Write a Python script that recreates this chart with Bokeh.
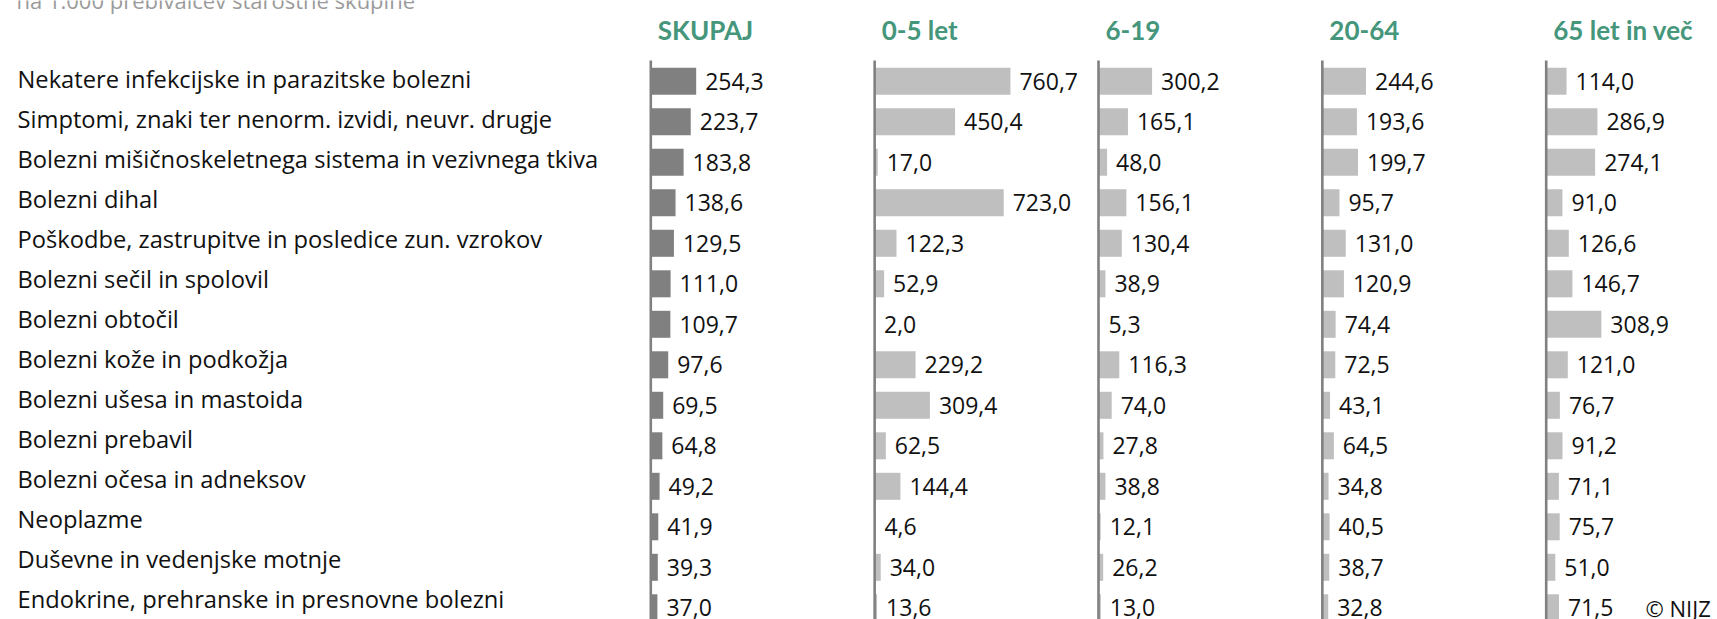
from bokeh.plotting import figure
from bokeh.models import Range1d, ColumnDataSource
from bokeh.embed import file_html
from bokeh.resources import INLINE
from bokeh.core.properties import value

# ---------------- data ----------------
categories = [
    "Nekatere infekcijske in parazitske bolezni",
    "Simptomi, znaki ter nenorm. izvidi, neuvr. drugje",
    "Bolezni mišičnoskeletnega sistema in vezivnega tkiva",
    "Bolezni dihal",
    "Poškodbe, zastrupitve in posledice zun. vzrokov",
    "Bolezni sečil in spolovil",
    "Bolezni obtočil",
    "Bolezni kože in podkožja",
    "Bolezni ušesa in mastoida",
    "Bolezni prebavil",
    "Bolezni očesa in adneksov",
    "Neoplazme",
    "Duševne in vedenjske motnje",
    "Endokrine, prehranske in presnovne bolezni",
]
groups = ["SKUPAJ", "0-5 let", "6-19", "20-64", "65 let in več"]
skupaj = [254.3, 223.7, 183.8, 138.6, 129.5, 111.0, 109.7, 97.6, 69.5, 64.8, 49.2, 41.9, 39.3, 37.0]
age_0_5 = [760.7, 450.4, 17.0, 723.0, 122.3, 52.9, 2.0, 229.2, 309.4, 62.5, 144.4, 4.6, 34.0, 13.6]
age_6_19 = [300.2, 165.1, 48.0, 156.1, 130.4, 38.9, 5.3, 116.3, 74.0, 27.8, 38.8, 12.1, 26.2, 13.0]
age_20_64 = [244.6, 193.6, 199.7, 95.7, 131.0, 120.9, 74.4, 72.5, 43.1, 64.5, 34.8, 40.5, 38.7, 32.8]
age_65 = [114.0, 286.9, 274.1, 91.0, 126.6, 146.7, 308.9, 121.0, 76.7, 91.2, 71.1, 75.7, 51.0, 71.5]
series = [skupaj, age_0_5, age_6_19, age_20_64, age_65]
subtitle = "na 1.000 prebivalcev starostne skupine"
source_note = "© NIJZ"

# ---------------- layout ----------------
W, H = 1717, 619
PX_PER_UNIT = 0.1785          # screen px per data unit (shared scale)
ROW_PX = 40.5                 # bar row pitch
LABEL_ROW_PX = 40.0           # category label pitch (slightly tighter in original)
ROW0_PX = 80.8
COL0_PX = 650.3
COL_STEP_PX = 223.85
BASE_FIX = -9.5               # correction for alphabetic baseline placement
FONT = "Open Sans"
HEAD_FONT = "Lato"
BAR_COLORS = ["#808080", "#bfbfbf", "#bfbfbf", "#bfbfbf", "#bfbfbf"]
HEAD_COLOR = "#45967b"

def px_to_row(px):
    return (px - ROW0_PX) / ROW_PX

p = figure(
    width=W, height=H,
    x_range=Range1d(0, W / PX_PER_UNIT),
    y_range=Range1d(px_to_row(H), px_to_row(0)),
    output_backend="svg", toolbar_location=None, min_border=0,
)
p.axis.visible = False
p.grid.visible = False
p.outline_line_color = None
p.background_fill_color = "white"
p.border_fill_color = "white"

rows = list(range(len(categories)))
origins = [(COL0_PX + i * COL_STEP_PX) / PX_PER_UNIT for i in range(len(groups))]

for i, (g, vals) in enumerate(zip(groups, series)):
    o = origins[i]
    src = ColumnDataSource(dict(
        y=rows,
        left=[o] * len(vals),
        right=[o + v for v in vals],
        lab=[f"{v:.1f}".replace(".", ",") for v in vals],
    ))
    p.hbar(y="y", left="left", right="right", height=0.667, source=src,
           fill_color=BAR_COLORS[i], line_color=None)
    p.segment(x0=[o], y0=[px_to_row(60)], x1=[o], y1=[px_to_row(H + 20)],
              line_color="#808080", line_width=2.6)
    p.text(x="right", y="y", text="lab", source=src, x_offset=9, y_offset=9.2 + BASE_FIX,
           text_font=value(FONT), text_font_size="23px", text_color="#111111",
           text_baseline="alphabetic", text_align="left")
    p.text(x=[o + 7 / PX_PER_UNIT], y=[px_to_row(39.4)], text=[g], y_offset=BASE_FIX,
           text_font=value(HEAD_FONT), text_font_style="bold", text_font_size="26px",
           text_color=HEAD_COLOR, text_baseline="alphabetic", text_align="left")

label_rows = [r * LABEL_ROW_PX / ROW_PX for r in rows]
cat_src = ColumnDataSource(dict(x=[17 / PX_PER_UNIT] * len(categories), y=label_rows, t=categories))
p.text(x="x", y="y", text="t", source=cat_src, y_offset=6.8 + BASE_FIX,
       text_font=value(FONT), text_font_size="23.7px", text_color="#111111",
       text_baseline="alphabetic", text_align="left")

p.text(x=[16 / PX_PER_UNIT], y=[px_to_row(9)], text=[subtitle], y_offset=BASE_FIX,
       text_font=value(FONT), text_font_size="22px", text_color="#9a9a9a",
       text_baseline="alphabetic", text_align="left")

p.text(x=[1645 / PX_PER_UNIT], y=[rows[-1]], text=[source_note], y_offset=9.2 + BASE_FIX,
       text_font=value(FONT), text_font_size="22px", text_color="#111111",
       text_baseline="alphabetic", text_align="left")

open("out.html", "w").write(file_html(p, INLINE))
